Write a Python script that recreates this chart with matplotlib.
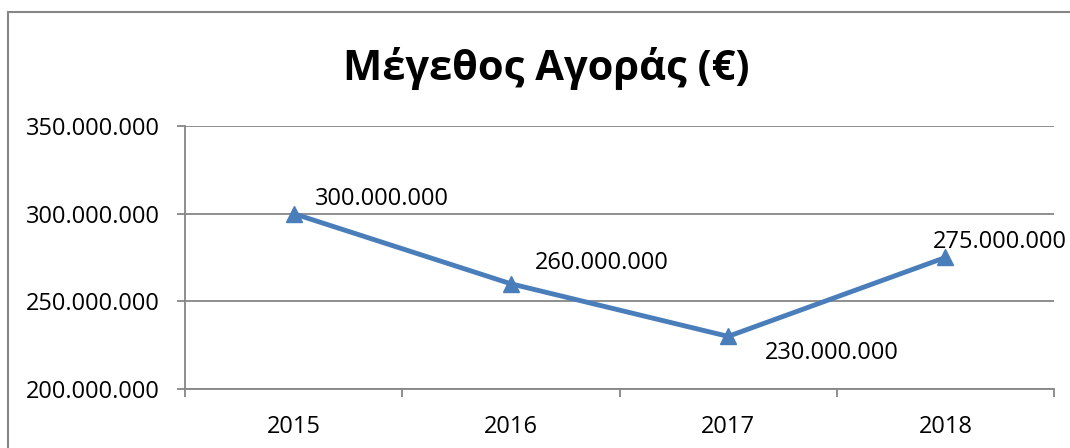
import matplotlib.pyplot as plt
from matplotlib.patches import Rectangle
from matplotlib.ticker import FuncFormatter, MultipleLocator

# Data
years = ['2015', '2016', '2017', '2018']
market_size = [300000000, 260000000, 230000000, 275000000]
# label offsets in pixels (dx, dy) relative to each point
label_offsets = [(21, 15), (24, 21), (37, -17), (-13, 15)]

plt.rcParams['font.family'] = ['Open Sans', 'DejaVu Sans']

fig = plt.figure(figsize=(10.7, 4.48), dpi=100)
ax = fig.add_axes([185 / 1070, 1 - 389 / 448, (1054 - 185) / 1070, (389 - 126) / 448])

# outer chart border
fig.patches.append(Rectangle((8 / 1070, -0.05), 1.1, 1 - 12 / 448 + 0.05,
                             transform=fig.transFigure, fill=False,
                             edgecolor='#868686', linewidth=1.5))

x = range(len(years))
ax.plot(x, market_size, color='#4A7EBB', linewidth=3.5, marker='^', markersize=11)

for i, v in enumerate(market_size):
    ax.annotate(f'{v:,}'.replace(',', '.'), (i, v), xytext=label_offsets[i],
                textcoords='offset pixels', ha='left', va='center', fontsize=17)

ax.set_xlim(-0.5, len(years) - 0.5)
ax.set_ylim(200000000, 350000000)
ax.yaxis.set_major_locator(MultipleLocator(50000000))
ax.yaxis.set_major_formatter(FuncFormatter(lambda v, p: f'{int(v):,}'.replace(',', '.')))
ax.set_xticks(list(x))
ax.set_xticklabels(years)
ax.set_xticks([i + 0.5 for i in range(-1, len(years))], minor=True)

ax.grid(axis='y', color='#868686', linewidth=1.3)
ax.set_axisbelow(True)
for s in ['top', 'right']:
    ax.spines[s].set_visible(False)
for s in ['left', 'bottom']:
    ax.spines[s].set_color('#868686')
    ax.spines[s].set_linewidth(1.3)

ax.tick_params(axis='x', which='major', length=0, labelsize=17, pad=19)
ax.tick_params(axis='x', which='minor', length=6, color='#868686', width=1.3)
ax.tick_params(axis='y', length=6, color='#868686', width=1.3, labelsize=17, pad=12)

fig.text(546 / 1070, 1 - 68 / 448, 'Μέγεθος Αγοράς (€)', ha='center', va='center',
         fontsize=30, fontweight='bold')

plt.savefig('out.png', dpi=100)
